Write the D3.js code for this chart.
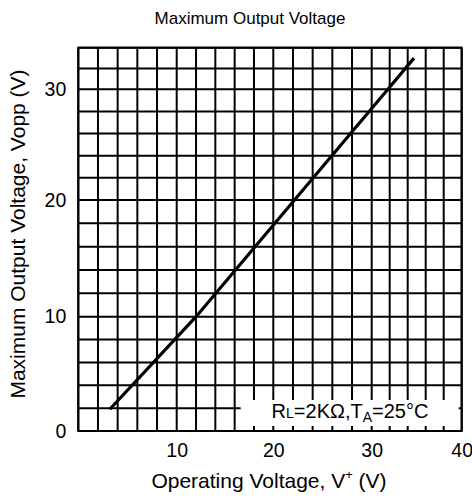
<!DOCTYPE html>
<html>
<head>
<meta charset="utf-8">
<script src="https://cdn.jsdelivr.net/npm/d3@7"></script>
<style>
  html, body { margin: 0; padding: 0; background: #fff; }
  svg { display: block; }
  text { font-family: "Liberation Sans", Arial, sans-serif; fill: #000; }
</style>
</head>
<body>
<svg id="chart" width="472" height="498"></svg>
<script>
// ---- data ----
const title = "Maximum Output Voltage";
const xTitle = "Operating Voltage, V";
const yTitle = "Maximum Output Voltage, Vopp (V)";
const xTickLabels = [10, 20, 30, 40];
const yTickLabels = [0, 10, 20, 30];
const xGrid = d3.range(0, 41, 2);
const yGrid = d3.range(0, 35, 2);
const supplyV = [3.2, 12, 31.8, 34.7];
const outputVopp = [1.9, 10, 30, 33.0];

(function () {
// ---- scales (grid in reference is slightly non-uniform) ----
const x = d3.scaleLinear().domain([0, 10, 20, 30, 40]).range([78.3, 176.7, 273.3, 371.7, 461.7]);
const y = d3.scaleLinear().domain([0, 10, 20, 30, 34]).range([431, 316.7, 200, 89.3, 47.7]);

const svg = d3.select("#chart");
const pL = x(0), pR = x(40), pT = y(34), pB = y(0);

// grid
const g = svg.append("g");
g.selectAll("line.vg").data(xGrid).join("line").attr("class", "vg")
  .attr("x1", d => x(d)).attr("x2", d => x(d))
  .attr("y1", pT).attr("y2", pB)
  .attr("stroke", "#000").attr("stroke-width", 2);
g.selectAll("line.hg").data(yGrid).join("line").attr("class", "hg")
  .attr("y1", d => y(d)).attr("y2", d => y(d))
  .attr("x1", pL).attr("x2", pR)
  .attr("stroke", "#000").attr("stroke-width", 2);

// data line
const lineGen = d3.line().x(d => x(d[0])).y(d => y(d[1]));
svg.append("path")
  .datum(supplyV.map((v, i) => [v, outputVopp[i]]))
  .attr("d", lineGen)
  .attr("fill", "none").attr("stroke", "#000").attr("stroke-width", 3.2);

// annotation box (white, hides grid leaving stubs)
const bx0 = x(16) + 6, bx1 = x(40) - 3, by0 = 400, by1 = y(0) - 5;
svg.append("rect").attr("x", bx0).attr("y", by0).attr("width", bx1 - bx0).attr("height", by1 - by0)
  .attr("fill", "#fff");
const ann = svg.append("text").attr("x", 350).attr("y", 418).attr("text-anchor", "middle")
  .attr("font-size", 20);
ann.append("tspan").text("R");
ann.append("tspan").attr("font-size", 14).text("L");
ann.append("tspan").text("=2KΩ,T");
ann.append("tspan").attr("font-size", 14).attr("dy", 4).text("A");
ann.append("tspan").attr("dy", -4).text("=25°C");

// frame
svg.append("rect").attr("x", pL).attr("y", pT).attr("width", pR - pL).attr("height", pB - pT)
  .attr("fill", "none").attr("stroke", "#000").attr("stroke-width", 2);

// axes labels
const xAxis = d3.axisBottom(x).tickValues(xTickLabels).tickSize(0).tickPadding(12);
const xa = svg.append("g").attr("transform", `translate(0,${pB})`).call(xAxis);
xa.select(".domain").remove();
xa.selectAll("text").attr("font-size", 19.5).attr("font-family", "Liberation Sans, Arial, sans-serif").attr("fill", "#000");

const yAxis = d3.axisLeft(y).tickValues(yTickLabels).tickSize(0).tickPadding(12);
const ya = svg.append("g").attr("transform", `translate(${pL},0)`).call(yAxis);
ya.select(".domain").remove();
ya.selectAll("text").attr("font-size", 19.5).attr("font-family", "Liberation Sans, Arial, sans-serif").attr("fill", "#000");

// titles
svg.append("text").attr("x", 250).attr("y", 24).attr("text-anchor", "middle").attr("font-size", 17).text(title);

const xt = svg.append("text").attr("x", 269).attr("y", 488).attr("text-anchor", "middle").attr("font-size", 21);
xt.append("tspan").text(xTitle);
xt.append("tspan").attr("font-size", 13).attr("dy", -9).text("+");
xt.append("tspan").attr("dy", 9).text(" (V)");

svg.append("text").attr("transform", "translate(25,234) rotate(-90)").attr("text-anchor", "middle")
  .attr("font-size", 21).text(yTitle);
})();
</script>
</body>
</html>
